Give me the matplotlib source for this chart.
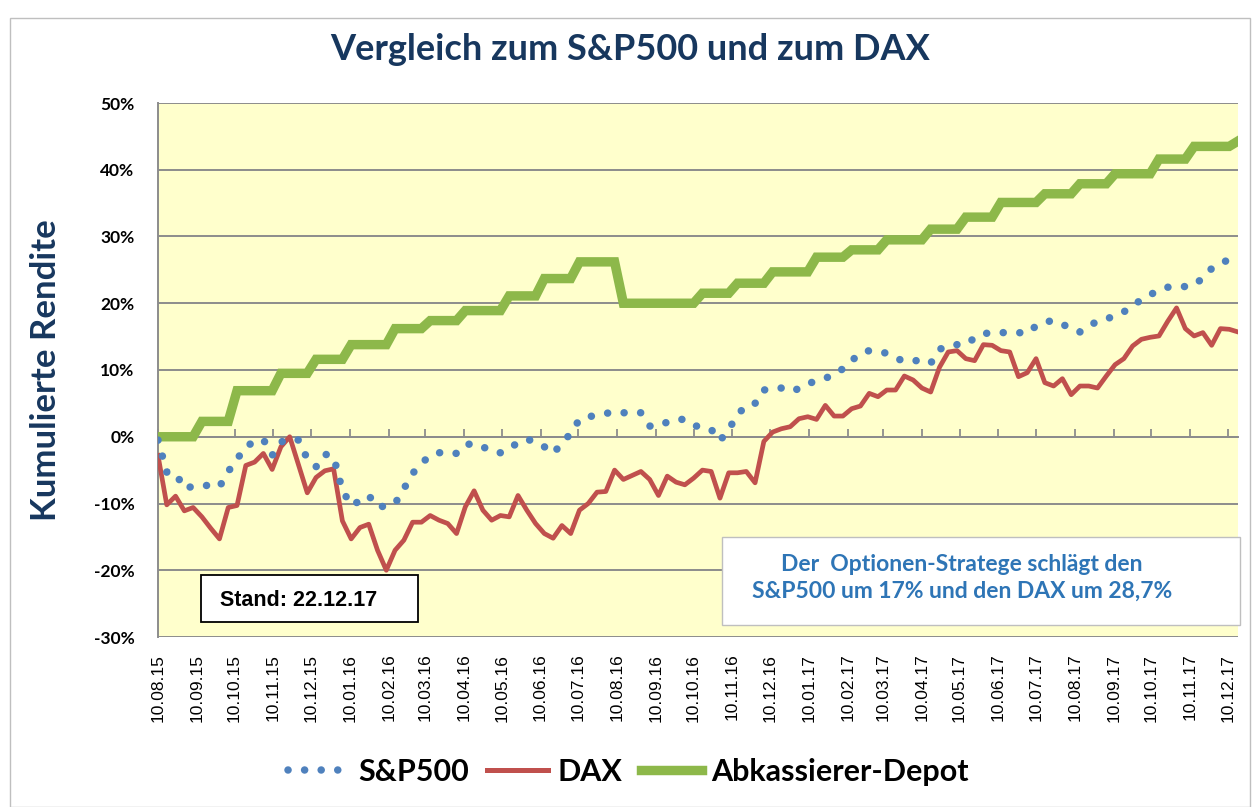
import matplotlib
matplotlib.use("Agg")
import matplotlib.pyplot as plt
from matplotlib.lines import Line2D
from matplotlib.patches import Rectangle
import pandas as pd

# ---------------- data ----------------
start_date = "2015-08-10"   # weekly observations
sp500 = [-0.5, -5.3, -5.4, -7.8, -7.4, -7.3, -7.3, -7.5, -5.2, -3.4,
         -1.4, -0.8, -0.4, -2.8, -0.8, -0.3, -0.5, -3.3, -4.5, -2.6,
         -3.0, -8.0, -10.3, -9.6, -8.8, -10.5, -10.4, -10.0, -7.8, -5.5,
         -4.0, -2.8, -2.4, -2.3, -2.5, -1.2, -1.0, -1.5, -2.2, -2.4,
         -1.9, -0.8, -0.4, -0.7, -1.5, -2.5, -1.0, 0.5, 2.6, 3.0,
         3.2, 3.5, 3.7, 3.6, 3.5, 3.6, 1.6, 1.6, 2.2, 2.6,
         2.6, 1.7, 1.4, 1.1, -0.6, 1.1, 3.3, 4.7, 5.0, 7.0,
         7.2, 7.3, 6.8, 7.2, 8.0, 8.3, 8.8, 9.2, 10.2, 11.4,
         12.5, 12.9, 12.8, 12.5, 11.8, 11.3, 11.4, 11.4, 11.0, 13.1,
         13.6, 13.8, 13.8, 14.8, 15.5, 15.5, 15.6, 15.6, 15.6, 15.5,
         16.6, 17.2, 17.4, 16.9, 16.1, 15.7, 16.6, 17.3, 17.6, 18.2,
         18.7, 19.7, 20.5, 21.3, 21.9, 22.4, 22.5, 22.5, 22.7, 23.8,
         25.2, 25.9, 26.6, 27.3]
dax = [-2.8, -10.2, -8.9, -11.1, -10.6, -12.0, -13.7, -15.3, -10.6, -10.3,
       -4.3, -3.8, -2.5, -4.9, -1.5, 0.0, -4.2, -8.4, -6.1, -5.1,
       -4.8, -12.6, -15.3, -13.6, -13.1, -17.0, -20.0, -17.0, -15.5, -12.8,
       -12.8, -11.8, -12.5, -13.0, -14.5, -10.5, -8.1, -11.0, -12.5, -11.8,
       -12.0, -8.8, -11.0, -13.0, -14.5, -15.2, -13.3, -14.5, -11.0, -10.0,
       -8.3, -8.2, -5.0, -6.4, -5.8, -5.2, -6.4, -8.8, -5.9, -6.8,
       -7.2, -6.2, -5.0, -5.2, -9.2, -5.4, -5.4, -5.2, -6.9, -0.7,
       0.7, 1.2, 1.5, 2.7, 3.0, 2.6, 4.7, 3.1, 3.1, 4.2,
       4.6, 6.5, 6.0, 7.0, 7.0, 9.1, 8.5, 7.3, 6.7, 10.4,
       12.7, 12.9, 11.7, 11.4, 13.8, 13.7, 12.9, 12.7, 9.0, 9.6,
       11.7, 8.1, 7.6, 8.7, 6.3, 7.6, 7.6, 7.3, 9.1, 10.8,
       11.7, 13.6, 14.6, 14.9, 15.1, 17.3, 19.3, 16.2, 15.1, 15.6,
       13.7, 16.2, 16.1, 15.7]
depot = [0.0, 0.0, 0.0, 0.0, 0.0,
         2.3, 2.3, 2.3, 2.3,
         6.9, 6.9, 6.9, 6.9, 6.9,
         9.5, 9.5, 9.5, 9.5,
         11.6, 11.6, 11.6, 11.6,
         13.8, 13.8, 13.8, 13.8, 13.8,
         16.2, 16.2, 16.2, 16.2,
         17.4, 17.4, 17.4, 17.4,
         18.9, 18.9, 18.9, 18.9, 18.9,
         21.1, 21.1, 21.1, 21.1,
         23.7, 23.7, 23.7, 23.7,
         26.2, 26.2, 26.2, 26.2, 26.2,
         20.0, 20.0, 20.0, 20.0, 20.0, 20.0, 20.0, 20.0, 20.0,
         21.5, 21.5, 21.5, 21.5,
         23.0, 23.0, 23.0, 23.0,
         24.7, 24.7, 24.7, 24.7, 24.7,
         26.9, 26.9, 26.9, 26.9,
         28.0, 28.0, 28.0, 28.0,
         29.5, 29.5, 29.5, 29.5, 29.5,
         31.1, 31.1, 31.1, 31.1,
         32.9, 32.9, 32.9, 32.9,
         35.1, 35.1, 35.1, 35.1, 35.1,
         36.4, 36.4, 36.4, 36.4,
         37.9, 37.9, 37.9, 37.9,
         39.4, 39.4, 39.4, 39.4, 39.4,
         41.6, 41.6, 41.6, 41.6,
         43.5, 43.5, 43.5, 43.5, 43.5,
         44.3]
x_tick_labels = ["10.08.15", "10.09.15", "10.10.15", "10.11.15", "10.12.15",
                 "10.01.16", "10.02.16", "10.03.16", "10.04.16", "10.05.16",
                 "10.06.16", "10.07.16", "10.08.16", "10.09.16", "10.10.16",
                 "10.11.16", "10.12.16", "10.01.17", "10.02.17", "10.03.17",
                 "10.04.17", "10.05.17", "10.06.17", "10.07.17", "10.08.17",
                 "10.09.17", "10.10.17", "10.11.17", "10.12.17"]
y_ticks = [-30, -20, -10, 0, 10, 20, 30, 40, 50]
series_names = ["S&P500", "DAX", "Abkassierer-Depot"]

# ---------------- style ----------------
C_SP = "#4F81BD"
C_DAX = "#C0504D"
C_DEP = "#8DB84A"
C_GRID = "#8C8C8C"
C_BG = "#FFFFCC"
C_NAVY = "#17375E"
FONT_C = ["Lato", "DejaVu Sans"]
FONT_A = ["Liberation Sans", "DejaVu Sans"]

W, H = 1258, 807
fig = plt.figure(figsize=(W / 100, H / 100), dpi=100)
fig.patch.set_facecolor("white")

L, R, T, B = 158, 1238, 103, 637
ax = fig.add_axes([L / W, 1 - B / H, (R - L) / W, (B - T) / H])
ax.set_facecolor(C_BG)

dates = pd.date_range(start_date, periods=len(sp500), freq="7D")

ax.plot(dates, depot, color=C_DEP, lw=6.8, solid_joinstyle="miter", zorder=3)
ax.plot(dates, dax, color=C_DAX, lw=3.4, solid_joinstyle="round", zorder=4)
dot_style = dict(color=C_SP, lw=5.4, linestyle=(0, (0.01, 2.2)),
                 dash_capstyle="round")
ax.plot(dates, sp500, zorder=5, **dot_style)

ax.set_xlim(dates[0], dates[-1])
ax.set_ylim(y_ticks[0], y_ticks[-1])

# y axis
ax.set_yticks(y_ticks)
ax.set_yticklabels([f"{v}%" for v in y_ticks], fontfamily=FONT_C,
                   fontweight="bold", fontsize=12.5)
ax.tick_params(axis="y", length=0, pad=17)
ax.grid(axis="y", color=C_GRID, lw=1.4)
ax.set_axisbelow(True)
for s in ["top", "right", "bottom"]:
    ax.spines[s].set_visible(False)
ax.spines["left"].set_color(C_GRID)
ax.spines["left"].set_linewidth(1.4)

# x axis (labels at bottom, ticks on zero line)
tick_dates = pd.to_datetime(x_tick_labels, format="%d.%m.%y")
ax.set_xticks(tick_dates)
ax.set_xticklabels(x_tick_labels, rotation=90, fontfamily=FONT_A,
                   fontsize=12.5)
ax.tick_params(axis="x", length=0, pad=12)

zero_frac = (0 - y_ticks[0]) / (y_ticks[-1] - y_ticks[0])
sec = ax.secondary_xaxis(zero_frac)
sec.set_xticks(tick_dates)
sec.set_xticklabels([])
sec.tick_params(axis="x", direction="in", length=6, width=1.3, color=C_GRID)
sec.spines["bottom"].set_color(C_GRID)
sec.spines["bottom"].set_linewidth(1.4)

ax.set_ylabel("Kumulierte Rendite", fontfamily=FONT_C, fontweight="bold",
              fontsize=25, color=C_NAVY)
ax.yaxis.set_label_coords((62 - L) / (R - L), 0.5)

# title
fig.text(630 / W, 1 - 50 / H, "Vergleich zum S&P500 und zum DAX",
         ha="center", va="center", fontfamily=FONT_C, fontweight="bold",
         fontsize=26, color=C_NAVY)

# outer chart border
fig.patches.append(Rectangle((10 / W, 0.0), (1250 - 10) / W, 1 - 18 / H,
                             transform=fig.transFigure, fill=False,
                             edgecolor="#BFBFBF", lw=1.0))

# "Stand" box
fig.patches.append(Rectangle((201 / W, 1 - 622 / H), 217 / W, 47 / H,
                             transform=fig.transFigure, facecolor="white",
                             edgecolor="black", lw=1.3, zorder=10))
fig.text(220 / W, 1 - 600 / H, "Stand: 22.12.17", ha="left", va="center",
         fontfamily=FONT_A, fontweight="bold", fontsize=15.5, zorder=11)

# comment box
fig.patches.append(Rectangle((722 / W, 1 - 625 / H), (1240 - 722) / W,
                             88 / H, transform=fig.transFigure,
                             facecolor="white", edgecolor="#BFBFBF", lw=1.0,
                             zorder=10))
fig.text(962 / W, 1 - 578 / H,
         "Der  Optionen-Stratege schlägt den\nS&P500 um 17% und den DAX um 28,7%",
         ha="center", va="center", fontfamily=FONT_C, fontweight="bold",
         fontsize=16.5, color="#2E75B6", linespacing=1.3, zorder=11)

# legend
handles = [Line2D([], [], **dot_style),
           Line2D([], [], color=C_DAX, lw=3.6),
           Line2D([], [], color=C_DEP, lw=6.8)]
fig.legend(handles, series_names, loc="center", ncol=3,
           bbox_to_anchor=(628 / W, 1 - 772 / H), frameon=False,
           prop={"family": FONT_C, "weight": "bold", "size": 22},
           handlelength=2.0, handletextpad=0.3, columnspacing=0.6)

fig.savefig("out.png", dpi=100)
